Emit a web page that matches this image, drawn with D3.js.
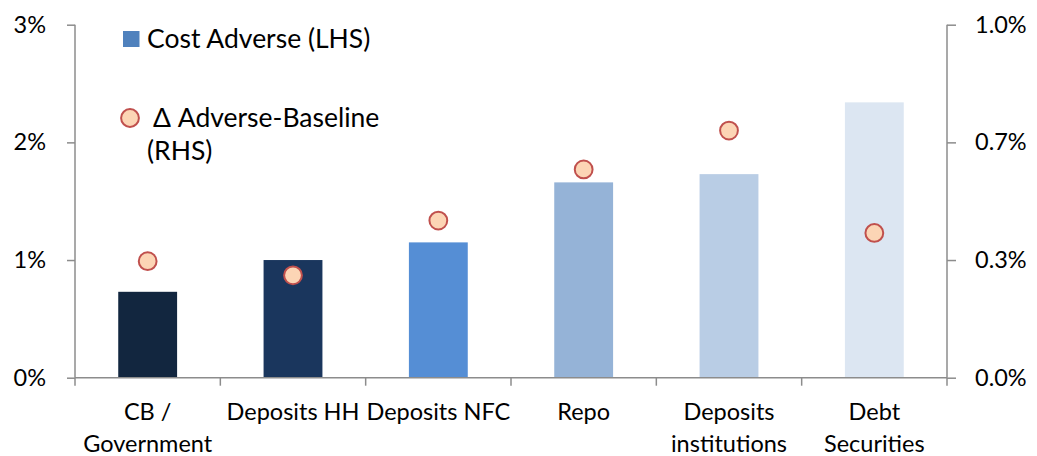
<!DOCTYPE html>
<html>
<head>
<meta charset="utf-8">
<script src="https://cdn.jsdelivr.net/npm/d3@7"></script>
<style>
  html, body { margin: 0; padding: 0; background: #fff; }
  svg { display: block; font-family: Lato, "Open Sans", sans-serif; }
</style>
</head>
<body>
<svg id="chart" width="1037" height="456"></svg>
<script>
// Funding categories and their cost figures (percent)
const categories = ["CB / Government", "Deposits HH", "Deposits NFC", "Repo", "Deposits institutions", "Debt Securities"];
const categoryLines = [["CB /", "Government"], ["Deposits HH"], ["Deposits NFC"], ["Repo"], ["Deposits", "institutions"], ["Debt", "Securities"]];
const costAdverse = [0.73, 1.0, 1.15, 1.66, 1.73, 2.34];        // LHS, %
const deltaAdverseBaseline = [0.33, 0.29, 0.445, 0.59, 0.70, 0.41]; // RHS, %
const barColors = ["#12263F", "#1A365D", "#558ED5", "#95B3D7", "#B9CDE5", "#DCE6F2"];
const leftTicks = [0, 1, 2, 3];
const rightTicks = [0, 1 / 3, 2 / 3, 1];
const legendLabels = ["Cost Adverse (LHS)", "\u0394 Adverse-Baseline", "(RHS)"];

const svg = d3.select("#chart");
const x0 = 75, x1 = 947;
const yBottom = 377.7, yTop = 24.7;
const axisColor = "#8C8C8C";
const axisFont = 23.5, legendFont = 26.5;

const x = d3.scaleBand().domain(categories).range([x0, x1]).paddingInner(0.595).paddingOuter(0.2975);
const yL = d3.scaleLinear().domain([0, 3]).range([yBottom, yTop]);
const yR = d3.scaleLinear().domain([0, 1]).range([yBottom, yTop]);

// Bars
svg.append("g").selectAll("rect")
  .data(categories)
  .join("rect")
  .attr("x", d => x(d))
  .attr("width", x.bandwidth())
  .attr("y", (d, i) => yL(costAdverse[i]))
  .attr("height", (d, i) => yBottom - yL(costAdverse[i]))
  .attr("fill", (d, i) => barColors[i]);

// Left axis
const gl = svg.append("g").attr("transform", `translate(${x0},0)`)
  .call(d3.axisLeft(yL).tickValues(leftTicks).tickFormat(d => d + "%").tickSize(8).tickPadding(21));
// Right axis
const gr = svg.append("g").attr("transform", `translate(${x1},0)`)
  .call(d3.axisRight(yR).tickValues(rightTicks).tickFormat(d => d.toFixed(1) + "%").tickSize(9).tickPadding(19));
[gl, gr].forEach(g => {
  g.select(".domain").attr("stroke", axisColor).attr("stroke-width", 1.5).attr("d", `M0,${yTop}V${yBottom}`);
  g.selectAll(".tick line").attr("stroke", axisColor).attr("stroke-width", 1.5);
  g.selectAll(".tick text").attr("font-size", axisFont).attr("fill", "#000").attr("font-family", "Lato, sans-serif");
});

// Bottom category axis with boundary ticks
const gb = svg.append("g");
gb.append("line").attr("x1", x0).attr("x2", x1).attr("y1", yBottom).attr("y2", yBottom)
  .attr("stroke", axisColor).attr("stroke-width", 1.5);
const bounds = d3.range(categories.length + 1).map(i => x0 + i * (x1 - x0) / categories.length);
gb.selectAll("line.b").data(bounds).join("line").attr("class", "b")
  .attr("x1", d => d).attr("x2", d => d).attr("y1", yBottom).attr("y2", yBottom + 8)
  .attr("stroke", axisColor).attr("stroke-width", 1.5);
const labels = gb.selectAll("text.cat").data(categories).join("text").attr("class", "cat")
  .attr("text-anchor", "middle").attr("font-size", axisFont).attr("fill", "#000")
  .attr("transform", d => `translate(${x(d) + x.bandwidth() / 2},0)`);
labels.each(function (d, i) {
  d3.select(this).selectAll("tspan").data(categoryLines[i]).join("tspan")
    .attr("x", 0).attr("y", (t, j) => 420 + j * 32).text(t => t);
});

// Delta markers
svg.append("g").selectAll("circle")
  .data(categories)
  .join("circle")
  .attr("cx", d => x(d) + x.bandwidth() / 2)
  .attr("cy", (d, i) => yR(deltaAdverseBaseline[i]))
  .attr("r", 8.9)
  .attr("fill", "#FCD5B5")
  .attr("stroke", "#C0504D")
  .attr("stroke-width", 2);

// Legend
const lg = svg.append("g");
lg.append("rect").attr("x", 123).attr("y", 31).attr("width", 16.5).attr("height", 16).attr("fill", "#4F81BD");
lg.append("text").attr("x", 147).attr("y", 48).attr("font-size", legendFont).attr("fill", "#000").text(legendLabels[0]);
lg.append("circle").attr("cx", 130).attr("cy", 118).attr("r", 8.9)
  .attr("fill", "#FCD5B5").attr("stroke", "#C0504D").attr("stroke-width", 2);
lg.append("text").attr("x", 153).attr("y", 126.5).attr("font-size", legendFont).attr("fill", "#000").text(legendLabels[1]);
lg.append("text").attr("x", 147).attr("y", 160).attr("font-size", legendFont).attr("fill", "#000").text(legendLabels[2]);
</script>
</body>
</html>
